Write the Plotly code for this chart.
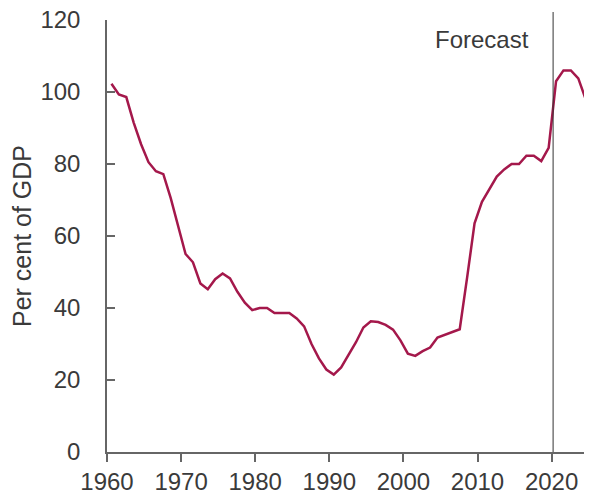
import numpy as np
import plotly.graph_objects as go

# fiscal years (start year) and debt as per cent of GDP
years = list(range(1960, 2026))
debt = [102.3, 99.3, 98.6, 91.5, 85.5, 80.5, 78.0, 77.2, 70.5, 62.5,
        55.0, 52.7, 46.8, 45.2, 48.0, 49.6, 48.2, 44.5, 41.5, 39.4,
        40.0, 40.0, 38.6, 38.6, 38.6, 37.1, 34.9, 30.0, 26.0, 22.9,
        21.5, 23.5, 27.0, 30.5, 34.6, 36.3, 36.1, 35.3, 34.0, 31.0,
        27.3, 26.7, 28.0, 29.0, 31.8, 32.6, 33.4, 34.1, 48.5, 63.5,
        69.5, 73.0, 76.5, 78.5, 80.0, 80.0, 82.3, 82.3, 80.8, 84.5,
        103.0, 106.0, 106.0, 103.8, 98.0, 95.7]
forecast_start = 2020.2
yticks = [0, 20, 40, 60, 80, 100, 120]
xticks = [1960, 1970, 1980, 1990, 2000, 2010, 2020]

font = "Liberation Sans, Arial, Helvetica, sans-serif"
txt = "#3a3a3a"

fig = go.Figure()
fig.add_trace(go.Scatter(
    x=np.array(years) + 0.6,
    y=debt,
    mode="lines",
    line=dict(color="#a4184b", width=2.5),
    showlegend=False))

fig.add_shape(type="line", xref="x", yref="paper",
              x0=forecast_start, x1=forecast_start, y0=0, y1=1.0185,
              line=dict(color="#333333", width=1))
fig.add_annotation(x=forecast_start, y=114.7, xref="x", yref="y",
                   text="Forecast", showarrow=False,
                   xanchor="right", yanchor="middle", xshift=-22,
                   font=dict(family=font, size=24, color=txt))

# page body adds an 8px margin, so the figure is 8px smaller
fig.update_layout(
    width=584,
    height=484,
    plot_bgcolor="white",
    paper_bgcolor="white",
    margin=dict(l=99, r=0, t=12, b=40),
    font=dict(family=font, size=24, color=txt))
fig.update_xaxes(
    range=[1960, 2025.45],
    tickvals=xticks,
    showgrid=False,
    zeroline=False,
    showline=True,
    linecolor="#666666",
    linewidth=1.5,
    ticks="outside",
    ticklen=8,
    tickwidth=1.5,
    tickcolor="#666666",
    ticklabelstandoff=-1,
    ticklabeloverflow="allow",
    automargin=False,
    tickfont=dict(size=24, color=txt))
fig.update_yaxes(
    range=[0, 120],
    tickvals=yticks,
    showgrid=False,
    zeroline=False,
    showline=True,
    linecolor="#666666",
    linewidth=1.5,
    ticks="inside",
    ticklen=8,
    tickwidth=1.5,
    tickcolor="#666666",
    ticklabelstandoff=20,
    ticklabeloverflow="allow",
    automargin=False,
    tickfont=dict(size=24, color=txt),
    title=dict(text="Per cent of GDP", standoff=18,
               font=dict(size=25, color=txt)))

fig.write_html("out.html")
